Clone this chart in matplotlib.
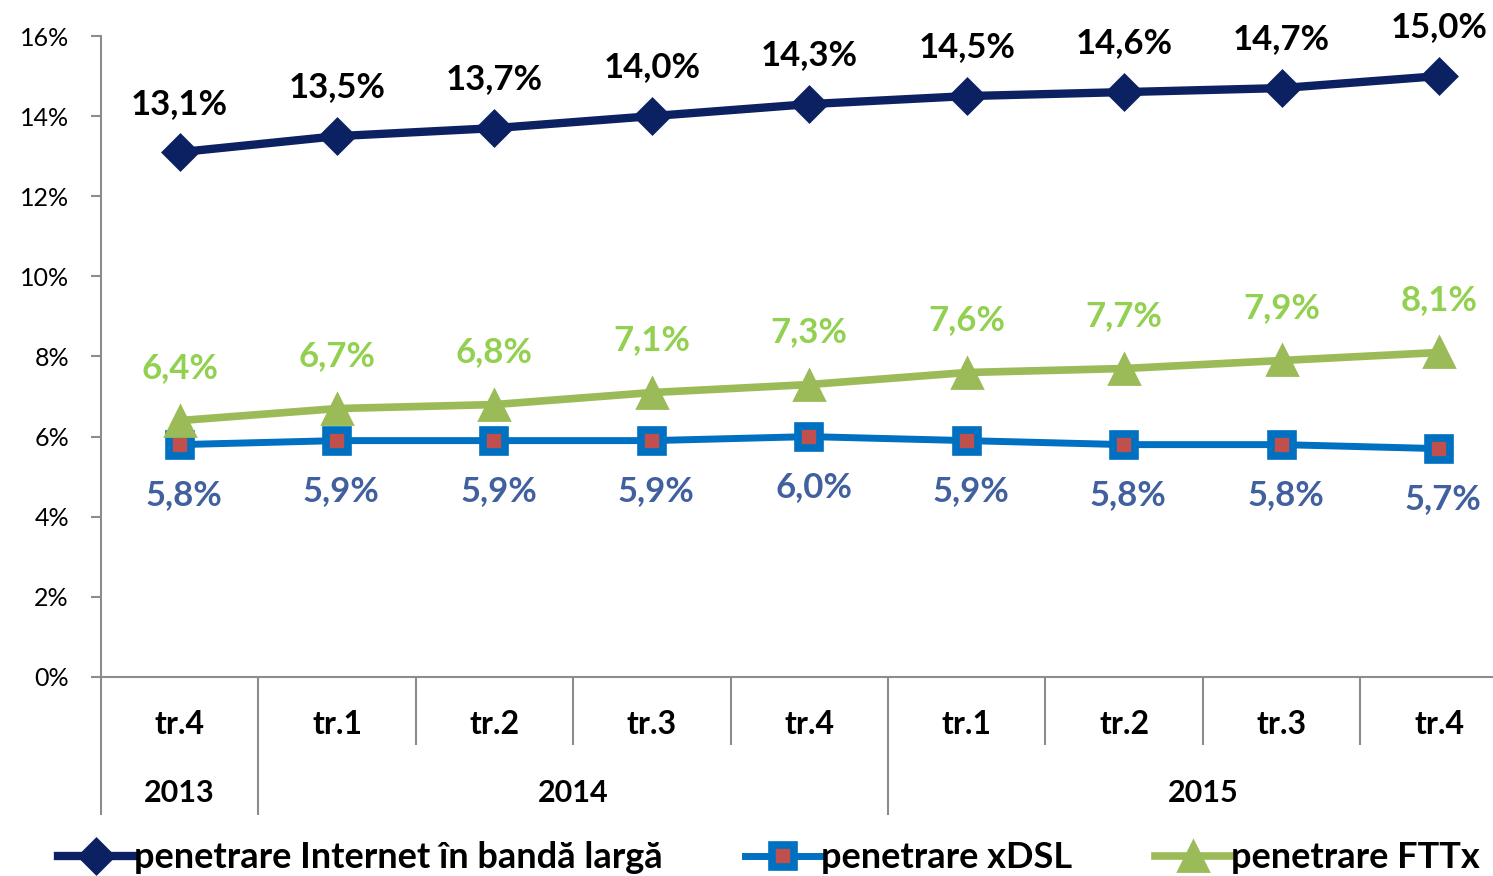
import numpy as np
import matplotlib.pyplot as plt
import matplotlib.transforms as mtransforms
from matplotlib.ticker import FixedLocator, NullFormatter

plt.rcParams['font.family'] = ['Lato', 'DejaVu Sans']

# Data
quarters = ['tr.4', 'tr.1', 'tr.2', 'tr.3', 'tr.4', 'tr.1', 'tr.2', 'tr.3', 'tr.4']
years = ['2013', '2014', '2015']
year_spans = [(0, 0), (1, 4), (5, 8)]  # first and last quarter index of each year
broadband = [13.1, 13.5, 13.7, 14.0, 14.3, 14.5, 14.6, 14.7, 15.0]
xdsl = [5.8, 5.9, 5.9, 5.9, 6.0, 5.9, 5.8, 5.8, 5.7]
fttx = [6.4, 6.7, 6.8, 7.1, 7.3, 7.6, 7.7, 7.9, 8.1]

navy = '#0c2161'
blue = '#0070c0'
red = '#c0504d'
green = '#9bbb59'
gray = '#8c8c8c'

fig = plt.figure(figsize=(14.93, 8.76), dpi=100)
ax = fig.add_axes([0.0676, 0.2272, 0.949, 0.7317])

x = np.arange(len(quarters))

ax.plot(x, fttx, color=green, lw=5.5, marker='^', ms=21, mfc=green, mec=green,
        mew=2, zorder=3, label='penetrare FTTx')
ax.plot(x, xdsl, color=blue, lw=5, marker='s', ms=16.5, mfc=red, mec=blue,
        mew=5.5, zorder=2, label='penetrare xDSL')
ax.plot(x, broadband, color=navy, lw=6, marker='D', ms=17, mfc=navy, mec=navy,
        mew=2.5, zorder=4, label='penetrare Internet în bandă largă')

def fmt(v):
    return f'{v:.1f}%'.replace('.', ',')

lab = dict(ha='center', va='center', fontsize=25, fontweight='bold',
           textcoords='offset points')
for xi, v in zip(x, broadband):
    ax.annotate(fmt(v), (xi, v), xytext=(0, 35), color='black', **lab)
for xi, v in zip(x, fttx):
    ax.annotate(fmt(v), (xi, v), xytext=(0, 38), color='#92d050', **lab)
for xi, v in zip(x, xdsl):
    ax.annotate(fmt(v), (xi, v), xytext=(3, -36), color='#41609e', **lab)

ax.set_xlim(-0.5, len(quarters) - 0.5)
ax.set_ylim(0, 16)
ax.set_yticks(np.arange(0, 17, 2))
ax.set_yticklabels([f'{t}%' for t in range(0, 17, 2)], fontsize=18)

for s in ['top', 'right']:
    ax.spines[s].set_visible(False)
for s in ['left', 'bottom']:
    ax.spines[s].set_color(gray)
    ax.spines[s].set_linewidth(1.5)
ax.tick_params(axis='y', length=7, width=1.5, color=gray, pad=16)

# category axis: long ticks at year boundaries, shorter at quarter boundaries
year_bounds = [year_spans[0][0] - 0.5] + [s[1] + 0.5 for s in year_spans]
quarter_bounds = [b for b in np.arange(-0.5, len(quarters)) if b not in year_bounds]
ax.xaxis.set_major_locator(FixedLocator(year_bounds))
ax.xaxis.set_minor_locator(FixedLocator(quarter_bounds))
ax.xaxis.set_major_formatter(NullFormatter())
ax.tick_params(axis='x', which='major', length=99, width=1.5, color=gray)
ax.tick_params(axis='x', which='minor', length=49, width=1.5, color=gray)

trans = mtransforms.blended_transform_factory(ax.transData, fig.transFigure)
for xi, q in zip(x, quarters):
    ax.text(xi, 1 - 724 / 876, q, transform=trans, ha='center', va='center',
            fontsize=23, fontweight='bold')
for yr, (a, b) in zip(years, year_spans):
    ax.text((a + b) / 2, 1 - 793 / 876, yr, transform=trans, ha='center', va='center',
            fontsize=22, fontweight='bold')

handles, labels = ax.get_legend_handles_labels()
fig.legend(handles[::-1], labels[::-1], loc='center', bbox_to_anchor=(0.515, 1 - 858 / 876),
           ncol=3, frameon=False, handlelength=2.1, handletextpad=0.0, columnspacing=2.3,
           prop={'size': 26, 'weight': 'bold'})

fig.savefig('out.png', dpi=100)
